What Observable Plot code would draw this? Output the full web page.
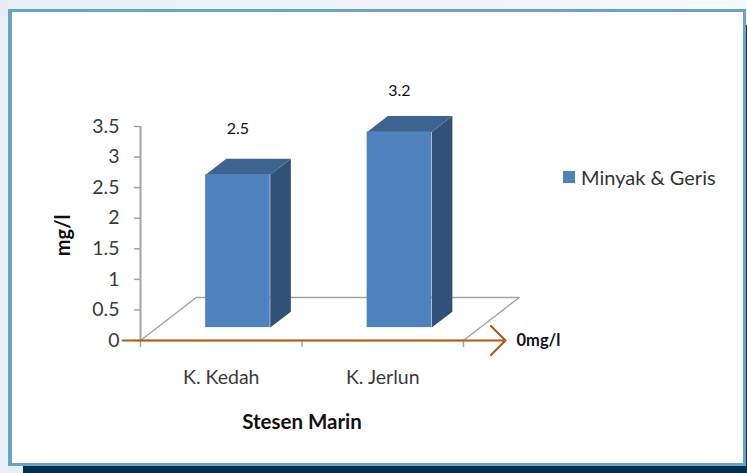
<!DOCTYPE html>
<html>
<head>
<meta charset="utf-8">
<script src="https://cdn.jsdelivr.net/npm/d3@7"></script>
<script src="https://cdn.jsdelivr.net/npm/@observablehq/plot@0.6"></script>
<style>
  html, body { margin: 0; padding: 0; }
  body { width: 747px; height: 473px; overflow: hidden; position: relative;
         background: linear-gradient(90deg, #e6eff6 0%, #f6f9fb 100%); }
  .shadow { position: absolute; left: 23px; top: 25px; right: 0; bottom: 0; background: #00304f; }
  .frame { position: absolute; left: 8px; top: 9px; width: 731px; height: 451px;
           background: #fff; border: 3px solid #6ba3c6; border-left-width: 4px; box-sizing: content-box; }
  #chart { position: absolute; left: 0; top: 0; }
  .legend { position: absolute; left: 562.5px; top: 165px; display: flex; align-items: center;
            font: 20px Lato, sans-serif; color: #333; height: 24px; white-space: nowrap; }
  .legend i { display: block; width: 12px; height: 12px; background: #4f81bd; margin-right: 6.5px; }
</style>
</head>
<body>
<div class="shadow"></div>
<div class="frame"></div>
<div id="chart"></div>
<div class="legend"><i></i><span id="legendLabel"></span></div>
<script>
const categories = ["K. Kedah", "K. Jerlun"];
const values = [2.5, 3.2];
const valueLabels = ["2.5", "3.2"];
const yTicks = [0, 0.5, 1, 1.5, 2, 2.5, 3, 3.5];
const seriesName = "Minyak & Geris";
const xTitle = "Stesen Marin";
const yTitle = "mg/l";
const baselineLabel = "0mg/l";

// Oblique 3-D projection, in data units
const depthX = 0.345, depthY = 0.703;
const barStart = 0.3, barWidth = 0.4, depthFront = 0.3, depthBack = 0.67;
const project = (x, y, d) => ({x: x + depthX * d, y: y + depthY * d});

const floor = [
  project(0, 0, 0), project(0, 0, 1), project(2, 0, 1), project(2, 0, 0)
];

const bars = values.map((v, i) => ({
  category: categories[i], value: v, label: valueLabels[i],
  x1: i + barStart, x2: i + barStart + barWidth
}));

const sideFaces = bars.flatMap((b) => [
  {...project(b.x2, 0, depthFront), z: b.category},
  {...project(b.x2, 0, depthBack), z: b.category},
  {...project(b.x2, b.value, depthBack), z: b.category},
  {...project(b.x2, b.value, depthFront), z: b.category}
]);
const topFaces = bars.flatMap((b) => [
  {...project(b.x1, b.value, depthFront), z: b.category},
  {...project(b.x1, b.value, depthBack), z: b.category},
  {...project(b.x2, b.value, depthBack), z: b.category},
  {...project(b.x2, b.value, depthFront), z: b.category}
]);

const grey = "#a3a3a3", ink = "#3a3a3a", black = "#111";
const bodyFont = "Lato, sans-serif";
const frontX = depthX * depthFront, frontY = depthY * depthFront;

const plot = Plot.plot({
  width: 747, height: 473,
  marginTop: 126, marginBottom: 133, marginLeft: 140, marginRight: 284,
  style: {background: "transparent", overflow: "visible"},
  x: {domain: [0, 2]},
  y: {domain: [0, 3.5]},
  marks: [
    Plot.line([...floor, floor[0]], {x: "x", y: "y", stroke: grey, strokeWidth: 1.5}),
    Plot.ruleX([0], {y1: 0, y2: 3.5, stroke: grey, strokeWidth: 2}),
    Plot.axisY({ticks: yTicks, tickSize: 6, tickPadding: 15, tickFormat: (d) => String(d), label: null,
      fontSize: 19.5, fontFamily: bodyFont, stroke: grey, strokeWidth: 1.5, fill: ink, color: ink}),
    Plot.axisX({ticks: [0, 1, 2], tickSize: 7, tickFormat: () => "", label: null, stroke: grey, strokeWidth: 1.5}),
    Plot.line(sideFaces, {x: "x", y: "y", z: "z", fill: "#325178", stroke: null}),
    Plot.line(topFaces, {x: "x", y: "y", z: "z", fill: "#3d6491", stroke: null}),
    Plot.rect(bars, {
      x1: (d) => d.x1 + frontX, x2: (d) => d.x2 + frontX,
      y1: () => frontY, y2: (d) => d.value + frontY,
      inset: 0, fill: "#4f81bd"
    }),
    Plot.arrow([{}], {x1: () => -0.11, x2: () => 2.26, y1: () => 0, y2: () => 0,
      stroke: "#b05a14", strokeWidth: 2.2, headLength: 14, headAngle: 90}),
    Plot.text(bars.slice(0, 1), {x: (d) => d.x1 + frontX + barWidth / 2, y: "value", text: "label", dy: -59,
      fontSize: 16, fontFamily: bodyFont, fill: black}),
    Plot.text(bars.slice(1), {x: (d) => d.x1 + frontX + barWidth / 2, y: "value", text: "label", dy: -54,
      fontSize: 16, fontFamily: bodyFont, fill: black}),
    Plot.text(categories, {x: (d, i) => i + 0.5, y: () => 0, text: (d) => d, dy: 37,
      fontSize: 19.5, fontFamily: bodyFont, fill: ink}),
    Plot.text([xTitle], {x: () => 1, y: () => 0, text: (d) => d, dy: 82,
      fontSize: 20.5, fontWeight: 700, fontFamily: bodyFont, fill: black}),
    Plot.text([yTitle], {x: () => 0, y: () => 1.72, text: (d) => d, dx: -77, rotate: -90,
      fontSize: 20, fontWeight: 700, fontFamily: bodyFont, fill: black}),
    Plot.text([baselineLabel], {x: () => 2.26, y: () => 0, text: (d) => d, dx: 11, textAnchor: "start",
      fontSize: 16.5, fontWeight: 700, fontFamily: bodyFont, fill: black})
  ]
});
document.getElementById("chart").appendChild(plot);
document.getElementById("legendLabel").textContent = seriesName;
</script>
</body>
</html>
